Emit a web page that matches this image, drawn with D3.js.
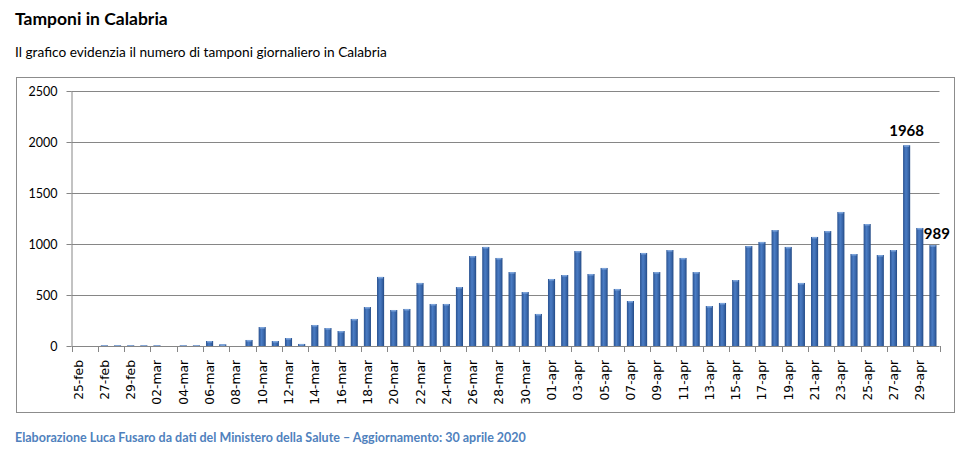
<!DOCTYPE html>
<html>
<head>
<meta charset="utf-8">
<script src="https://cdnjs.cloudflare.com/ajax/libs/d3/7.8.5/d3.min.js"></script>
<style>
  body { margin: 0; background: #fff; }
  svg { display: block; }
  .title { font-family: Lato, "Open Sans", sans-serif; font-weight: bold; font-size: 17.5px; fill: #000; }
  .subtitle { font-family: Lato, "Open Sans", sans-serif; font-size: 13.7px; fill: #000; }
  .footer { font-family: Lato, "Open Sans", sans-serif; font-weight: bold; font-size: 12.5px; fill: #4f81bd; }
  .yaxis text { font-family: Lato, "Open Sans", sans-serif; font-size: 12.5px; fill: #000; }
  .xaxis text { font-family: "DejaVu Sans", sans-serif; font-size: 12.3px; fill: #000; }
  .annot { font-family: Lato, "Open Sans", sans-serif; font-weight: bold; font-size: 15px; fill: #000; }
</style>
</head>
<body>
<svg id="chart" width="974" height="456"></svg>
<script>
var dates = [
  "25-feb","26-feb","27-feb","28-feb","29-feb",
  "01-mar","02-mar","03-mar","04-mar","05-mar","06-mar","07-mar","08-mar","09-mar","10-mar",
  "11-mar","12-mar","13-mar","14-mar","15-mar","16-mar","17-mar","18-mar","19-mar","20-mar",
  "21-mar","22-mar","23-mar","24-mar","25-mar","26-mar","27-mar","28-mar","29-mar","30-mar","31-mar",
  "01-apr","02-apr","03-apr","04-apr","05-apr","06-apr","07-apr","08-apr","09-apr","10-apr",
  "11-apr","12-apr","13-apr","14-apr","15-apr","16-apr","17-apr","18-apr","19-apr","20-apr",
  "21-apr","22-apr","23-apr","24-apr","25-apr","26-apr","27-apr","28-apr","29-apr","30-apr"
];

var tamponi = [
  0, 0, 6, 6, 6,
  6, 6, 0, 6, 6, 49, 16, 0, 59, 186,
  49, 78, 20, 206, 176, 147, 265, 382, 677, 353,
  363, 618, 412, 412, 578, 882, 971, 863, 725, 529, 314,
  657, 696, 931, 706, 765, 559, 441, 912, 725, 941,
  863, 725, 392, 422, 647, 980, 1020, 1137, 971, 618,
  1069, 1127, 1314, 902, 1196, 892, 941, 1968, 1157, 989
];

var yTicks = [0, 500, 1000, 1500, 2000, 2500];

// only these two bars carry a value label
var labelled = ["28-apr", "30-apr"];

var titleText = "Tamponi in Calabria";
var subtitleText = "Il grafico  evidenzia il numero di tamponi giornaliero in Calabria";
var footerText = "Elaborazione  Luca Fusaro da dati del Ministero della Salute \u2013 Aggiornamento: 30 aprile 2020";

var svg = d3.select("#chart");

var plot = {left: 71.5, right: 939.5, top: 91, bottom: 346};

svg.append("text").attr("class", "title").attr("x", 15).attr("y", 25).text(titleText);
svg.append("text").attr("class", "subtitle").attr("x", 15).attr("y", 57).text(subtitleText);
svg.append("text").attr("class", "footer").attr("x", 15).attr("y", 442).text(footerText);

// chart frame
svg.append("rect")
  .attr("x", 16.5).attr("y", 77.5)
  .attr("width", 938).attr("height", 335)
  .attr("fill", "none")
  .attr("stroke", "#8c8c8c");

var x = d3.scaleBand()
  .domain(dates)
  .range([plot.left, plot.right])
  .paddingInner(0.46)
  .paddingOuter(0.23);

var y = d3.scaleLinear()
  .domain([0, 2500])
  .range([plot.bottom, plot.top]);

// gradient for the bars
var grad = svg.append("defs").append("linearGradient")
  .attr("id", "barGrad")
  .attr("x1", "0").attr("x2", "1").attr("y1", "0").attr("y2", "0");
grad.append("stop").attr("offset", "0%").attr("stop-color", "#2a5290");
grad.append("stop").attr("offset", "40%").attr("stop-color", "#4a7cc4");
grad.append("stop").attr("offset", "70%").attr("stop-color", "#3b69ad");
grad.append("stop").attr("offset", "100%").attr("stop-color", "#234a85");

// gridlines
svg.append("g")
  .selectAll("line.grid")
  .data(yTicks.slice(1))
  .enter()
  .append("line")
  .classed("grid", true)
  .attr("x1", plot.left)
  .attr("x2", plot.right)
  .attr("y1", function(d) {return Math.round(y(d)) + 0.5;})
  .attr("y2", function(d) {return Math.round(y(d)) + 0.5;})
  .attr("stroke", "#868686");

// y axis
var yAxis = svg.append("g")
  .attr("class", "yaxis")
  .attr("transform", "translate(" + plot.left + ",0)")
  .call(d3.axisLeft(y).tickValues(yTicks).tickFormat(d3.format("d")).tickSize(5).tickPadding(9));
yAxis.selectAll("line").attr("stroke", "#868686");
yAxis.select(".domain").attr("stroke", "#868686").attr("d", "M0.5," + plot.top + "V" + plot.bottom);

// bars
svg.append("g")
  .selectAll("rect.bar")
  .data(tamponi)
  .enter()
  .append("rect")
  .classed("bar", true)
  .attr("x", function(d, i) {return x(dates[i]);})
  .attr("y", function(d) {return y(d);})
  .attr("width", x.bandwidth())
  .attr("height", function(d) {return y(0) - y(d);})
  .attr("fill", "url(#barGrad)");

// light cap on top of each bar
svg.append("g")
  .selectAll("rect.cap")
  .data(tamponi)
  .enter()
  .append("rect")
  .classed("cap", true)
  .attr("x", function(d, i) {return x(dates[i]) + 1;})
  .attr("y", function(d) {return y(d);})
  .attr("width", x.bandwidth() - 2)
  .attr("height", function(d) {return d > 0 ? 1.5 : 0;})
  .attr("fill", "#7fa6dc");

// x axis: ticks every two days, labels rotated
var step = x.step();
var tickPos = d3.range(0, dates.length + 1, 2).map(function(i) {return plot.left + i * step;});

var xAxis = svg.append("g").attr("class", "xaxis");
xAxis.append("line")
  .attr("x1", plot.left).attr("x2", plot.right)
  .attr("y1", plot.bottom + 0.5).attr("y2", plot.bottom + 0.5)
  .attr("stroke", "#868686");
xAxis.selectAll("line.tick")
  .data(tickPos)
  .enter()
  .append("line")
  .classed("tick", true)
  .attr("x1", function(d) {return Math.round(d) + 0.5;})
  .attr("x2", function(d) {return Math.round(d) + 0.5;})
  .attr("y1", plot.bottom)
  .attr("y2", plot.bottom + 6)
  .attr("stroke", "#868686");
xAxis.selectAll("text")
  .data(dates.filter(function(d, i) {return i % 2 == 0;}))
  .enter()
  .append("text")
  .attr("text-anchor", "end")
  .attr("transform", function(d) {
      return "translate(" + (x(d) + x.bandwidth() / 2 + 4.5) + "," + (plot.bottom + 14) + ") rotate(-90)";
  })
  .text(function(d) {return d;});

// value labels
svg.append("g")
  .selectAll("text.annot")
  .data(labelled)
  .enter()
  .append("text")
  .classed("annot", true)
  .attr("text-anchor", "middle")
  .attr("x", function(d, i) {return x(d) + x.bandwidth() / 2 + (i == 1 ? 4 : 0);})
  .attr("y", function(d, i) {return y(tamponi[dates.indexOf(d)]) - (i == 1 ? 6 : 9);})
  .text(function(d) {return tamponi[dates.indexOf(d)];});
</script>
</body>
</html>
